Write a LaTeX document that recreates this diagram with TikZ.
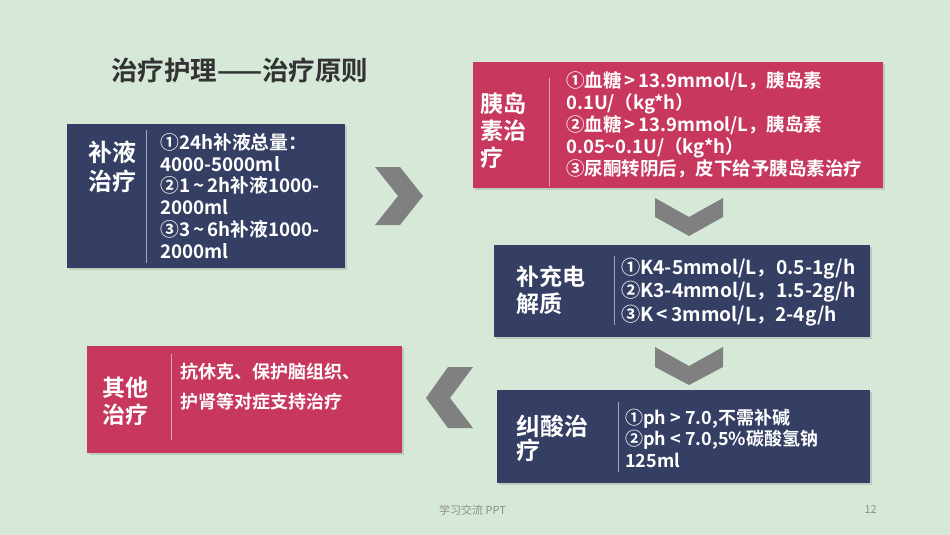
\documentclass[tikz,border=0pt]{standalone}
\usepackage{fontspec}
\setmainfont{Noto Sans CJK SC}
\newfontfamily\cjkbold{Noto Sans CJK SC Bold}
\definecolor{bg}{RGB}{214,233,216}
\definecolor{navy}{RGB}{53,62,99}
\definecolor{rose}{RGB}{200,56,94}
\definecolor{chev}{RGB}{128,128,128}
\definecolor{ttl}{RGB}{51,51,51}
\newcommand{\tld}{\,\textasciitilde\,}
\begin{document}
\begin{tikzpicture}[x=1pt,y=-1pt,
  shadowbox/.style={fill=black,opacity=0.12},
  headtxt/.style={anchor=west,align=left,inner sep=0pt,text=white,font=\cjkbold\fontsize{23}{27}\selectfont},
  bodytxt/.style={anchor=west,align=left,inner sep=0pt,text=white},
  divider/.style={draw=white,opacity=0.55,line width=0.8pt},
  chevron/.style={fill=chev,draw=none}]
\useasboundingbox (0,0) rectangle (950,535);
\fill[bg] (0,0) rectangle (950,535);

% title
\node[anchor=west,inner sep=0pt,text=ttl,font=\cjkbold\fontsize{26.5}{30}\selectfont] (title) at (111,70) {治疗护理——治疗原则};

% shadows
\fill[shadowbox] (69,126) rectangle (347,270);
\fill[shadowbox] (475,64) rectangle (885,190);
\fill[shadowbox] (496,247) rectangle (872,339);
\fill[shadowbox] (89,348) rectangle (404,455);
\fill[shadowbox] (499,392) rectangle (872,485);

% boxes
\fill[navy] (67,124) coordinate (b1nw) rectangle (345,268) coordinate (b1se);
\fill[rose] (473,62) coordinate (b2nw) rectangle (883,188) coordinate (b2se);
\fill[navy] (494,245) coordinate (b3nw) rectangle (870,337) coordinate (b3se);
\fill[rose] (87,346) coordinate (b4nw) rectangle (402,453) coordinate (b4se);
\fill[navy] (497,390) coordinate (b5nw) rectangle (870,483) coordinate (b5se);

% dividers
\coordinate (d1a) at (146,130); \coordinate (d1b) at (146,263);
\coordinate (d2a) at (549,78);  \coordinate (d2b) at (549,186);
\coordinate (d3a) at (614,256); \coordinate (d3b) at (614,325);
\coordinate (d4a) at (171,354); \coordinate (d4b) at (171,440);
\coordinate (d5a) at (618,402); \coordinate (d5b) at (618,472);
\draw[divider] (d1a) -- (d1b);
\draw[divider] (d2a) -- (d2b);
\draw[divider] (d3a) -- (d3b);
\draw[divider] (d4a) -- (d4b);
\draw[divider] (d5a) -- (d5b);

% box 1
\node[headtxt,font=\cjkbold\fontsize{24}{29}\selectfont] (h1) at (88,167) {补液\\治疗};
\node[bodytxt,font=\cjkbold\fontsize{18.8}{21.8}\selectfont] (t1) at (160,196) {①24h补液总量：\\4000-5000ml\\②1\tld2h补液1000-\\2000ml\\③3\tld6h补液1000-\\2000ml};

% box 2
\node[headtxt,font=\cjkbold\fontsize{23}{27}\selectfont] (h2) at (480,131) {胰岛\\素治\\疗};
\node[bodytxt,font=\cjkbold\fontsize{18.5}{22}\selectfont] (t2) at (566,125) {①血糖\,>\,13.9mmol/L，胰岛素\\0.1U/（kg*h）\\②血糖\,>\,13.9mmol/L，胰岛素\\0.05\textasciitilde0.1U/（kg*h）\\③尿酮转阴后，皮下给予胰岛素治疗};

% box 3
\node[headtxt] (h3) at (516,290) {补充电\\解质};
\node[bodytxt,font=\cjkbold\fontsize{19.2}{23.5}\selectfont] (t3) at (621,292) {①K4-5mmol/L，0.5-1g/h\\②K3-4mmol/L，1.5-2g/h\\③K\,<\,3mmol/L，2-4g/h};

% box 4
\node[headtxt] (h4) at (102,401) {其他\\治疗};
\node[bodytxt,font=\cjkbold\fontsize{18}{30}\selectfont] (t4) at (180,387) {抗休克、保护脑组织、\\护肾等对症支持治疗};

% box 5
\node[headtxt,font=\cjkbold\fontsize{24}{24}\selectfont] (h5) at (516,438) {纠酸治\\疗};
\node[bodytxt,font=\cjkbold\fontsize{18}{21.5}\selectfont] (t5) at (625,438) {①ph > 7.0,不需补碱\\②ph < 7.0,5\%碳酸氢钠\\125ml};

% chevrons
\fill[chevron] (375,167) -- (400,167) -- (423,196) -- (400,225) -- (375,225) -- (398,196) -- cycle;
\fill[chevron] (655,198) -- (689,217) -- (723,198) -- (723,217) -- (689,236) -- (655,217) -- cycle;
\fill[chevron] (655,347) -- (689,366) -- (723,347) -- (723,367) -- (689,385) -- (655,367) -- cycle;
\fill[chevron] (448,367) -- (473,367) -- (450,398) -- (473,428) -- (448,428) -- (426,398) -- cycle;

% footer
\node[anchor=west,inner sep=0pt,text=black!45,font=\fontsize{11}{13}\selectfont] (foot) at (439,510) {学习交流 PPT};
\node[anchor=east,inner sep=0pt,text=black!45,font=\fontsize{11}{13}\selectfont] (page) at (877,510) {12};
\end{tikzpicture}
\end{document}
